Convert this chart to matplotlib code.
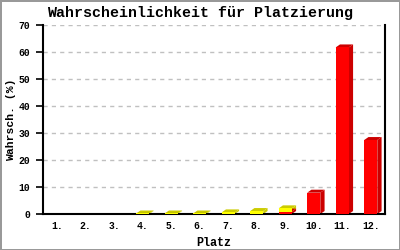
import matplotlib
matplotlib.use("Agg")
import matplotlib.pyplot as plt
from matplotlib.patches import Polygon

# data
places = [1, 2, 3, 4, 5, 6, 7, 8, 9, 10, 11, 12]
place_labels = ["1.", "2.", "3.", "4.", "5.", "6.", "7.", "8.", "9.", "10.", "11.", "12."]
red_vals = [0, 0, 0, 0, 0, 0, 0, 0, 0.9, 7.9, 61.7, 27.4]
yellow_vals = [0, 0, 0, 0.2, 0.2, 0.2, 0.6, 1.1, 1.2, 0, 0, 0]

font = "Liberation Mono"
W = 0.46       # front width (data units)
DX = 0.15      # depth to the right (data units)
DY = 1.1       # depth upward (data units)

fig = plt.figure(figsize=(4, 2.5), dpi=100)
fig.patch.set_edgecolor("#999999")
fig.patch.set_linewidth(2)
ax = fig.add_axes([0.1075, 0.144, 0.855, 0.756])


def draw_segment(x, bottom, h, front, dark):
    if h <= 0:
        return
    ax.bar(x, h, W, bottom=bottom, color=front, zorder=3, linewidth=0)
    x0, x1 = x - W / 2, x + W / 2
    y0, y1 = bottom, bottom + h
    side = Polygon([(x1, y0), (x1 + DX, y0 + DY), (x1 + DX, y1 + DY), (x1, y1)],
                   closed=True, facecolor=dark, edgecolor="none", zorder=2)
    top = Polygon([(x0, y1), (x0 + DX, y1 + DY), (x1 + DX, y1 + DY), (x1, y1)],
                  closed=True, facecolor=dark, edgecolor="none", zorder=2.5)
    ax.add_patch(side)
    ax.add_patch(top)


for i, x in enumerate(places):
    draw_segment(x, 0, red_vals[i], "#ff0000", "#cc0000")
    draw_segment(x, red_vals[i], yellow_vals[i], "#ffff00", "#cccc00")

ax.set_xlim(0.5, 12.5)
ax.set_ylim(0, 70)
ax.set_yticks(range(0, 71, 10))
ax.set_xticks(places)
ax.set_xticklabels(place_labels)
ax.tick_params(axis="x", length=0, pad=5)
ax.tick_params(axis="y", length=5, width=1.2, pad=4, direction="out")
for lab in ax.get_xticklabels() + ax.get_yticklabels():
    lab.set_fontfamily(font)
    lab.set_fontsize(7)
    lab.set_fontweight("bold")

ax.grid(axis="y", linestyle=(0, (3, 3)), color="#c0c0c0", linewidth=1, zorder=0)
ax.set_axisbelow(True)
ax.spines["top"].set_visible(False)
for s in ["left", "right", "bottom"]:
    ax.spines[s].set_linewidth(1.5)
    ax.spines[s].set_color("black")

fig.text(0.5, 1 - 13 / 250, "Wahrscheinlichkeit für Platzierung", fontfamily=font,
         fontsize=10.8, fontweight="bold", ha="center", va="center")
ax.set_xlabel("Platz", fontfamily=font, fontsize=8.5, fontweight="bold")
ax.xaxis.set_label_coords(0.5, -0.12)
ax.set_ylabel("Wahrsch. (%)", fontfamily=font, fontsize=8.2, fontweight="bold")
ax.yaxis.set_label_coords(-0.078, 0.5)

fig.savefig("out.png", dpi=100)
